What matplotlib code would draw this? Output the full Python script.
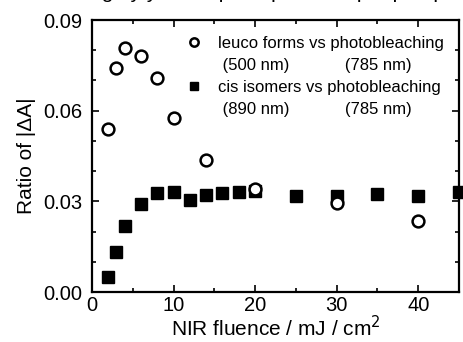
import matplotlib
matplotlib.use("Agg")
import matplotlib.pyplot as plt
from matplotlib.lines import Line2D
from matplotlib.ticker import MultipleLocator

plt.rcParams['font.family'] = ['Liberation Sans', 'DejaVu Sans']

# leuco forms vs photobleaching
leuco_x = [2, 3, 4, 6, 8, 10, 14, 20, 30, 40]
leuco_y = [0.0538, 0.0740, 0.0807, 0.0780, 0.0707, 0.0575, 0.0436, 0.0340, 0.0293, 0.0236]

# cis isomers vs photobleaching
cis_x = [2, 3, 4, 6, 8, 10, 12, 14, 16, 18, 20, 25, 30, 35, 40, 45]
cis_y = [0.0051, 0.0132, 0.0217, 0.0291, 0.0326, 0.0332, 0.0306, 0.0321, 0.0328, 0.0332,
         0.0334, 0.0317, 0.0319, 0.0323, 0.0319, 0.0332]

fig = plt.figure(figsize=(4.64, 3.42), dpi=100)
ax = fig.add_axes([92/464, 1 - 292/342, (459-92)/464, (292-20)/342])

ax.plot(cis_x, cis_y, 's', color='black', markersize=8.5, clip_on=False, zorder=3)
ax.plot(leuco_x, leuco_y, 'o', mfc='white', mec='black', mew=1.8, markersize=8.5,
        clip_on=False, zorder=4)

ax.set_xlim(0, 45)
ax.set_ylim(0, 0.09)
ax.xaxis.set_major_locator(MultipleLocator(10))
ax.xaxis.set_minor_locator(MultipleLocator(5))
ax.yaxis.set_major_locator(MultipleLocator(0.03))
ax.yaxis.set_minor_locator(MultipleLocator(0.01))
ax.yaxis.set_major_formatter(matplotlib.ticker.FormatStrFormatter('%.2f'))
ax.tick_params(which='both', direction='in', top=True, right=True, width=1.2,
               labelsize=14.5)
ax.tick_params(axis='x', pad=3)
ax.tick_params(axis='y', pad=7)
ax.tick_params(which='major', length=5)
ax.tick_params(which='minor', length=3)
for s in ax.spines.values():
    s.set_linewidth(1.6)

ax.set_xlabel('NIR fluence / mJ / cm$^2$', fontsize=15, labelpad=0)
ax.set_ylabel('Ratio of |\u0394A|', fontsize=15, labelpad=5)

# title partly cut off at the top of the image
fig.text(0.5, 1 + 2.5/342, 'Branching by yield of photoproducts per pump', ha='center',
         va='baseline', fontsize=15)

blank = Line2D([], [], linestyle='none', marker=None)
handles = [
    Line2D([], [], linestyle='none', marker='o', mfc='white', mec='black', mew=1.8, markersize=6),
    blank,
    Line2D([], [], linestyle='none', marker='s', color='black', markersize=6),
    blank,
]
labels = ['leuco forms vs photobleaching',
          ' (500 nm)            (785 nm)',
          'cis isomers vs photobleaching',
          ' (890 nm)            (785 nm)']
ax.legend(handles, labels, loc='upper right', frameon=False, fontsize=12,
          handletextpad=0.6, handlelength=1.6, labelspacing=0.42,
          borderaxespad=0.3, bbox_to_anchor=(0.99, 0.985))

fig.savefig('out.png', dpi=100)
